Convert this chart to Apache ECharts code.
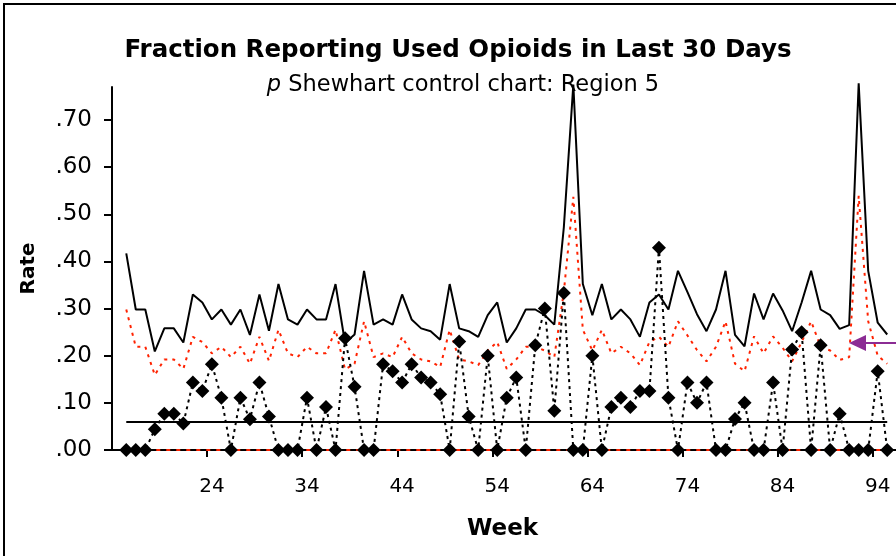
<!DOCTYPE html>
<html>
<head>
<meta charset="utf-8">
<script src="https://cdn.jsdelivr.net/npm/echarts@6/dist/echarts.min.js"></script>
<style>
  html, body { margin: 0; padding: 0; background: #fff; }
  #chart { width: 896px; height: 556px; }
</style>
</head>
<body>
<div id="chart"></div>
<script>
// ---- data ----
const axisWeeks = [14,15,16,17,18,19,20,21,22,23,24,25,26,27,28,29,30,31,32,33,34,35,36,37,38,39,40,41,42,43,44,45,46,47,48,49,50,51,52,53,54,55,56,57,58,59,60,61,62,63,64,65,66,67,68,69,70,71,72,73,74,75,76,77,78,79,80,81,82,83,84,85,86,87,88,89,90,91,92,93,94,95,96,97];
const weeks = [15,16,17,18,19,20,21,22,23,24,25,26,27,28,29,30,31,32,33,34,35,36,37,38,39,40,41,42,43,44,45,46,47,48,49,50,51,52,53,54,55,56,57,58,59,60,61,62,63,64,65,66,67,68,69,70,71,72,73,74,75,76,77,78,79,80,81,82,83,84,85,86,87,88,89,90,91,92,93,94,95];
const rate = [0,0,0,0.044,0.077,0.077,0.056,0.143,0.125,0.182,0.111,0,0.111,0.065,0.143,0.071,0,0,0,0.111,0,0.091,0,0.237,0.134,0,0,0.182,0.167,0.143,0.182,0.154,0.143,0.118,0,0.23,0.071,0,0.2,0,0.111,0.154,0,0.222,0.3,0.083,0.333,0,0,0.2,0,0.091,0.111,0.091,0.125,0.125,0.429,0.111,0,0.143,0.1,0.143,0,0,0.066,0.1,0,0,0.143,0,0.213,0.25,0,0.222,0,0.077,0,0,0,0.167,0];
const ucl = [0.417,0.298,0.298,0.209,0.258,0.258,0.228,0.330,0.313,0.277,0.298,0.266,0.298,0.244,0.330,0.253,0.352,0.277,0.266,0.298,0.277,0.277,0.352,0.227,0.245,0.380,0.266,0.277,0.266,0.330,0.277,0.258,0.252,0.234,0.352,0.258,0.252,0.240,0.286,0.313,0.228,0.258,0.298,0.298,0.286,0.266,0.472,0.775,0.352,0.286,0.352,0.277,0.298,0.277,0.240,0.313,0.330,0.298,0.380,0.335,0.288,0.252,0.298,0.380,0.244,0.220,0.332,0.277,0.332,0.296,0.252,0.313,0.380,0.298,0.286,0.257,0.265,0.778,0.380,0.270,0.245];
const warn = [0.298,0.219,0.219,0.159,0.192,0.192,0.172,0.240,0.229,0.205,0.219,0.197,0.219,0.183,0.240,0.189,0.255,0.205,0.197,0.219,0.205,0.205,0.255,0.171,0.183,0.273,0.197,0.205,0.197,0.240,0.205,0.192,0.188,0.176,0.255,0.192,0.188,0.180,0.211,0.229,0.172,0.192,0.219,0.219,0.211,0.197,0.335,0.537,0.255,0.211,0.255,0.205,0.219,0.205,0.180,0.229,0.240,0.219,0.273,0.243,0.212,0.188,0.219,0.273,0.183,0.167,0.241,0.205,0.241,0.217,0.188,0.229,0.273,0.219,0.211,0.191,0.197,0.539,0.273,0.200,0.183];
const centerLine = 0.06;
const lowerLimit = 0;
const yTicks = [0,0.1,0.2,0.3,0.4,0.5,0.6,0.7];
const xLabelWeeks = [24,34,44,54,64,74,84,94];

const FONT = "'DejaVu Sans', 'Liberation Sans', Arial, sans-serif";
const pair = arr => weeks.map((w, i) => [String(w), arr[i]]);
const firstW = String(weeks[0]), lastW = String(weeks[weeks.length - 1]);

const chart = echarts.init(document.getElementById('chart'), null, { renderer: 'canvas' });
chart.setOption({
  animation: false,
  backgroundColor: '#fff',
  title: [
    { text: 'Fraction Reporting Used Opioids in Last 30 Days', left: 453, top: 33, textAlign: 'center',
      textStyle: { fontFamily: FONT, fontSize: 24.5, fontWeight: 'bold', color: '#000' } },
    { text: '{i|p} Shewhart control chart: Region 5', left: 458, top: 69, textAlign: 'center',
      textStyle: { fontFamily: FONT, fontSize: 22.5, fontWeight: 'normal', color: '#000',
        rich: { i: { fontFamily: FONT, fontSize: 22.5, fontStyle: 'italic', color: '#000' } } } }
  ],
  grid: { left: 112, top: 87, width: 799, height: 363, containLabel: false, outerBoundsMode: 'none' },
  xAxis: {
    type: 'category', data: axisWeeks.map(String), boundaryGap: true,
    name: 'Week', nameLocation: 'middle', nameGap: 68,
    nameTextStyle: { fontFamily: FONT, fontSize: 23, fontWeight: 'bold', color: '#000', padding: [0, 18, 0, 0] },
    axisLine: { show: true, lineStyle: { color: '#000', width: 2 } },
    axisTick: { show: true, length: 7, lineStyle: { color: '#000', width: 2 },
      interval: (i, v) => xLabelWeeks.includes(Number(v)) },
    axisLabel: { fontFamily: FONT, fontSize: 20, color: '#000', margin: 27,
      interval: (i, v) => xLabelWeeks.includes(Number(v)) },
    splitLine: { show: false }
  },
  yAxis: {
    type: 'value', min: 0, max: 0.77,
    name: 'Rate', nameLocation: 'middle', nameGap: 73, nameRotate: 90,
    nameTextStyle: { fontFamily: FONT, fontSize: 20, fontWeight: 'bold', color: '#000' },
    axisLine: { show: true, lineStyle: { color: '#000', width: 2 } },
    axisTick: { show: true, length: 8, inside: false, lineStyle: { color: '#000', width: 2 }, customValues: yTicks },
    axisLabel: { fontFamily: FONT, fontSize: 23, color: '#000', margin: 20, customValues: yTicks,
      formatter: v => v.toFixed(2).replace(/^0/, '') },
    splitLine: { show: false }
  },
  series: [
    { name: 'UCL', type: 'line', data: pair(ucl), symbol: 'none', clip: false, z: 2,
      lineStyle: { color: '#000', width: 2 } },
    { name: 'Warning', type: 'line', data: pair(warn), symbol: 'none', clip: false, z: 3,
      lineStyle: { color: '#ff2200', width: 2, type: [3, 5] } },
    { name: 'Center', type: 'line', data: [], z: 3,
      markLine: { silent: true, symbol: ['none', 'none'], label: { show: false },
        lineStyle: { color: '#000', width: 2, type: 'solid' },
        data: [ [ { coord: [firstW, centerLine] }, { coord: [lastW, centerLine] } ] ] } },
    { name: 'Lower', type: 'line', data: [], z: 4,
      markLine: { silent: true, symbol: ['none', 'none'], label: { show: false },
        lineStyle: { color: '#ff2200', width: 2, type: [4, 6] },
        data: [ [ { coord: [firstW, lowerLimit] }, { coord: [lastW, lowerLimit] } ] ] } },
    { name: 'Rate', type: 'line', data: pair(rate), symbol: 'diamond', symbolSize: 14, showAllSymbol: true,
      clip: false, z: 5,
      itemStyle: { color: '#000' },
      lineStyle: { color: '#000', width: 2, type: [3, 4] } }
  ],
  graphic: [
    { type: 'rect', shape: { x: 4, y: 4, width: 1000, height: 700 }, style: { fill: 'none', stroke: '#000', lineWidth: 2 }, z: 100 },
    { type: 'line', shape: { x1: 862, y1: 343, x2: 900, y2: 343 }, style: { stroke: '#8b2c94', lineWidth: 2 }, z: 100 },
    { type: 'polygon', shape: { points: [[849, 343], [866, 335], [866, 351]] }, style: { fill: '#8b2c94' }, z: 100 }
  ]
});
</script>
</body>
</html>
